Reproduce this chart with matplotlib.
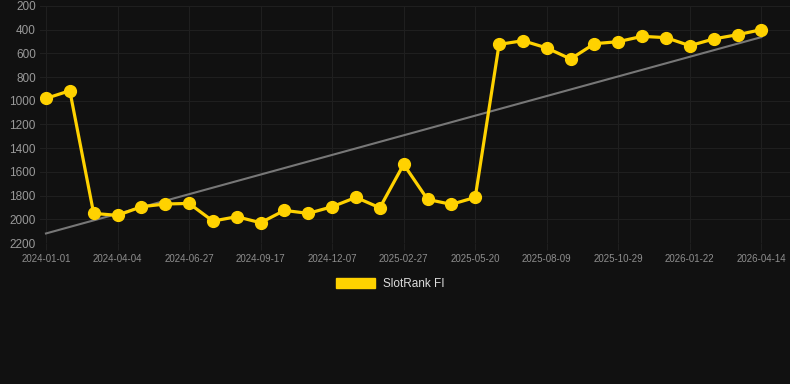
import matplotlib
matplotlib.use("Agg")
import matplotlib.pyplot as plt
from matplotlib.patches import Patch
import numpy as np

plt.rcParams['font.family'] = ['Liberation Sans', 'DejaVu Sans']

tick_labels = ["2024-01-01", "2024-04-04", "2024-06-27", "2024-09-17", "2024-12-07",
               "2025-02-27", "2025-05-20", "2025-08-09", "2025-10-29", "2026-01-22",
               "2026-04-14"]
ranks = [980, 915, 1950, 1967, 1894, 1871, 1866, 2015, 1978, 2029, 1925,
         1950, 1894, 1815, 1903, 1536, 1832, 1874, 1815, 524, 493,
         554, 647, 518, 501, 456, 467, 535, 478, 442, 400]
series_name = "SlotRank FI"
y_ticks = [200, 400, 600, 800, 1000, 1200, 1400, 1600, 1800, 2000, 2200]

bg = "#111111"
gold = "#FFD200"
grid_c = "#1f1f1f"
text_c = "#999999"

x = np.arange(len(ranks))
fig = plt.figure(figsize=(7.9, 3.84), dpi=100, facecolor=bg)
ax = fig.add_axes([40/790, 1-243/384, 1-40/790, (243-6)/384])
ax.set_facecolor(bg)

slope, intercept = np.polyfit(x, ranks, 1)
ax.plot(x, slope*x + intercept, color="#777777", lw=1.5, zorder=2)
ax.plot(x, ranks, color=gold, lw=2.3, marker="o", markersize=8.5, zorder=3)

ax.set_ylim(2200, 200)
ax.set_xlim(-0.25, 31.2)
ax.set_yticks(y_ticks)
ax.set_yticklabels([str(v) for v in y_ticks])
ax.set_xticks(x[::3])
ax.set_xticklabels(tick_labels)
ax.grid(True, color=grid_c, lw=0.8)
ax.set_axisbelow(True)
for s in ax.spines.values():
    s.set_visible(False)
ax.tick_params(axis='y', colors=grid_c, labelcolor=text_c, labelsize=8.5, length=0, pad=3)
ax.tick_params(axis='x', colors=grid_c, labelcolor="#8e8e8e", labelsize=7, length=5, pad=3)

fig.legend(handles=[Patch(facecolor=gold, edgecolor=gold)], labels=[series_name],
           loc="center", bbox_to_anchor=(0.494, 1-284/384), frameon=False,
           fontsize=8.5, labelcolor="#dddddd", handlelength=3.3, handleheight=1.0,
           handletextpad=0.6)

fig.savefig("out.png", dpi=100, facecolor=bg)
